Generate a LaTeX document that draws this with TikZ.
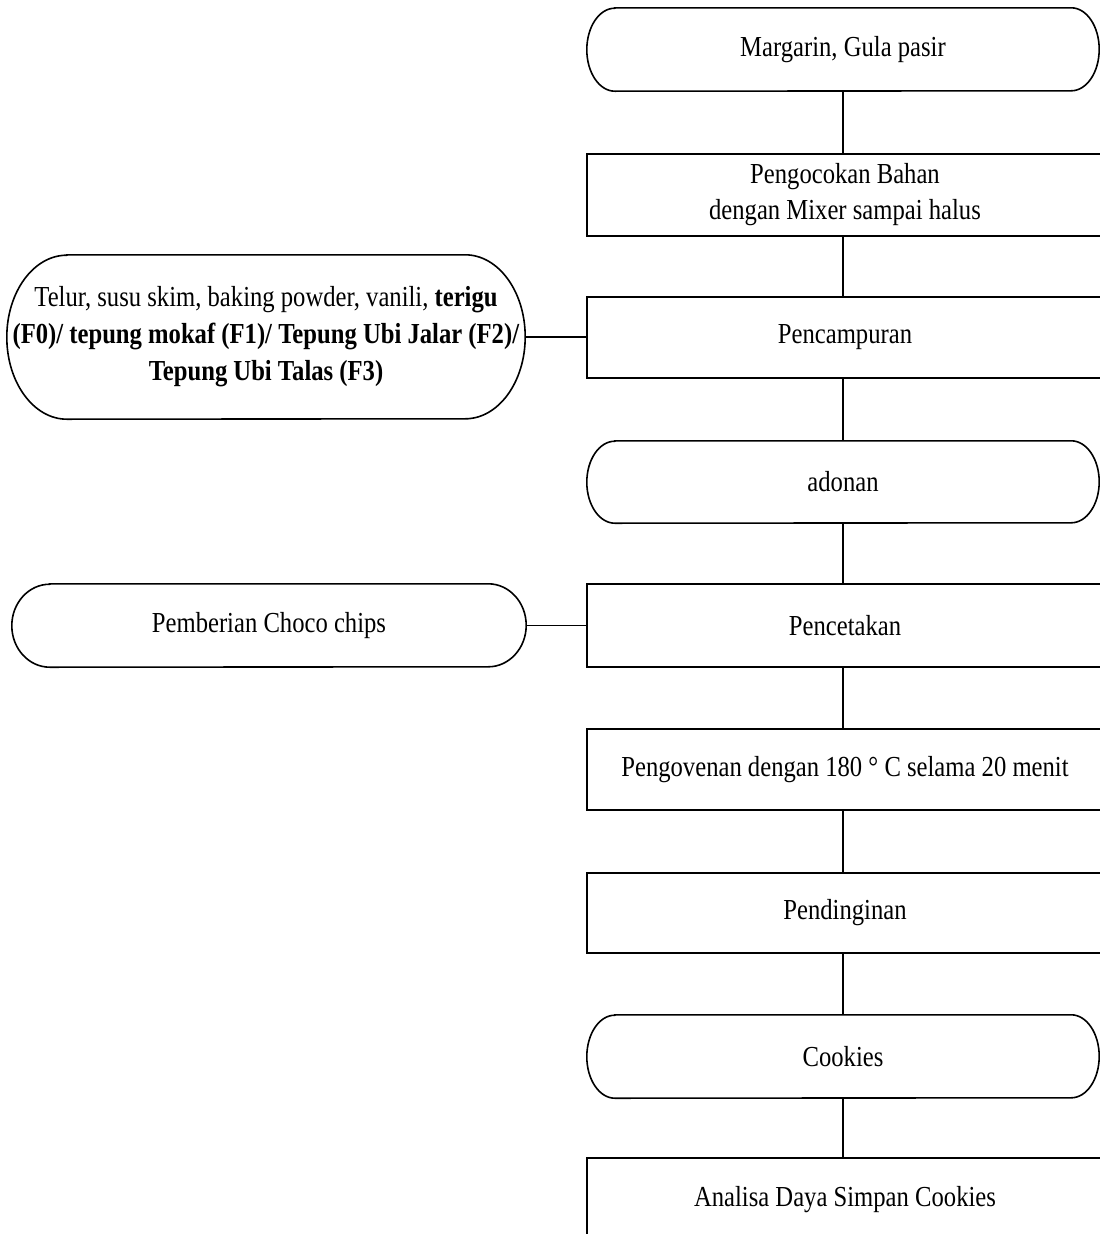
\documentclass[tikz,border=0pt]{standalone}
\usepackage{fontspec}
\setmainfont[FakeStretch=0.85]{Liberation Serif}
\tikzset{
  lbl/.style={draw=none, align=center, inner sep=0pt, font=\fontsize{29}{36}\selectfont},
  procbox/.style={lbl, draw, line width=1.6pt, minimum width=516pt},
  termtext/.style={lbl},
  conn/.style={line width=1.6pt},
  outline/.style={line width=1.6pt}
}
\newcommand\termoutline[3]{%
  \draw[outline] ([xshift=#2]#1.north west) -- ([xshift=-#2]#1.north east)
    arc[start angle=90,end angle=-90,x radius=#2,y radius=#3]
    -- ([xshift=#2]#1.south west)
    arc[start angle=270,end angle=90,x radius=#2,y radius=#3] -- cycle;}
\begin{document}
\begin{tikzpicture}[x=1pt,y=1pt]
\useasboundingbox (0,0) rectangle (1100,-1234);
\clip (0,0) rectangle (1100,-1234);
% right column
\node[termtext, minimum width=512pt, minimum height=83pt] (m1) at (843,-49.5) {Margarin, Gula pasir};
\termoutline{m1}{28pt}{41.5pt}
\node[procbox, minimum height=82pt] (p1) at (845,-195) {Pengocokan Bahan\\dengan Mixer sampai halus};
\node[procbox, minimum height=81pt] (p2) at (845,-337.5) {Pencampuran};
\node[termtext, minimum width=512pt, minimum height=82pt] (a1) at (843,-482) {adonan};
\termoutline{a1}{28pt}{41pt}
\node[procbox, minimum height=83pt] (p3) at (845,-625.5) {Pencetakan};
\node[procbox, minimum height=81pt] (p4) at (845,-769.5) {Pengovenan dengan 180 ° C selama 20 menit};
\node[procbox, minimum height=80pt] (p5) at (845,-913) {Pendinginan};
\node[termtext, minimum width=512pt, minimum height=83pt] (c1) at (843,-1056.5) {Cookies};
\termoutline{c1}{28pt}{41.5pt}
\node[procbox, minimum height=84pt] (p6) at (845,-1200) {Analisa Daya Simpan Cookies};
% left column
\node[termtext, minimum width=518pt, minimum height=164pt, font=\fontsize{29}{37}\selectfont] (t1) at (266,-337) {Telur, susu skim, baking powder, vanili, \textbf{terigu}\\\textbf{(F0)/ tepung mokaf (F1)/ Tepung Ubi Jalar (F2)/}\\\textbf{Tepung Ubi Talas (F3)}};
\termoutline{t1}{60pt}{82pt}
\node[termtext, minimum width=514pt, minimum height=83pt] (b1) at (269,-625.5) {Pemberian Choco chips};
\termoutline{b1}{38pt}{41.5pt}
% connectors
\draw[conn] (m1.south) -- (m1.south |- p1.north);
\draw[conn] (m1.south |- p1.south) -- (m1.south |- p2.north);
\draw[conn] (m1.south |- p2.south) -- (a1.north);
\draw[conn] (a1.south) -- (a1.south |- p3.north);
\draw[conn] (a1.south |- p3.south) -- (a1.south |- p4.north);
\draw[conn] (a1.south |- p4.south) -- (a1.south |- p5.north);
\draw[conn] (a1.south |- p5.south) -- (c1.north);
\draw[conn] (c1.south) -- (c1.south |- p6.north);
\draw[conn] (t1.east) -- (t1.east -| p2.west);
\draw[conn] (b1.east) -- (b1.east -| p3.west);
\end{tikzpicture}
\end{document}
